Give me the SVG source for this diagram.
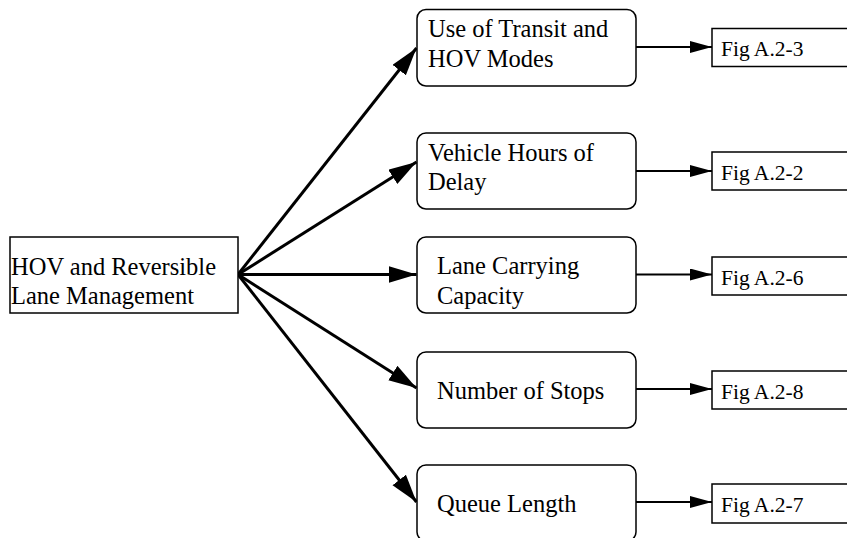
<svg xmlns="http://www.w3.org/2000/svg" width="847" height="538" viewBox="0 0 847 538">
<style>
  .box{fill:#fff;stroke:#000;stroke-width:1.5}
  .t{font-family:"Liberation Serif","Times New Roman",serif;font-size:24.5px;fill:#000}
  .f{font-family:"Liberation Serif","Times New Roman",serif;font-size:21.5px;fill:#000}
  .big{stroke:#000;stroke-width:3;fill:none}
  .sm{stroke:#000;stroke-width:2;fill:none}
</style>
<defs>
  <marker id="ah" markerUnits="userSpaceOnUse" markerWidth="30" markerHeight="20" refX="28" refY="8.5" orient="auto">
    <path d="M0,0 L28,8.5 L0,17 Z" fill="#000"/>
  </marker>
  <marker id="as" markerUnits="userSpaceOnUse" markerWidth="24" markerHeight="14" refX="22" refY="6" orient="auto">
    <path d="M0,0 L22,6 L0,12 Z" fill="#000"/>
  </marker>
</defs>
<rect width="847" height="538" fill="#fff"/>
<g id="connectors">
  <line class="big" x1="238" y1="274.5" x2="416.5" y2="48" marker-end="url(#ah)"/>
  <line class="big" x1="238" y1="274.5" x2="416.5" y2="162" marker-end="url(#ah)"/>
  <line class="big" x1="238" y1="274.5" x2="416.5" y2="274.5" marker-end="url(#ah)"/>
  <line class="big" x1="238" y1="274.5" x2="416.5" y2="388" marker-end="url(#ah)"/>
  <line class="big" x1="238" y1="274.5" x2="416.5" y2="502" marker-end="url(#ah)"/>
  <line class="sm" x1="636" y1="47" x2="712" y2="47" marker-end="url(#as)"/>
  <line class="sm" x1="636" y1="171" x2="712" y2="171" marker-end="url(#as)"/>
  <line class="sm" x1="636" y1="274.5" x2="712" y2="274.5" marker-end="url(#as)"/>
  <line class="sm" x1="636" y1="389" x2="712" y2="389" marker-end="url(#as)"/>
  <line class="sm" x1="636" y1="502" x2="712" y2="502" marker-end="url(#as)"/>
</g>
<g id="main">
  <rect class="box" x="10" y="237" width="228" height="76"/>
  <text class="t" x="11" y="275">HOV and Reversible</text>
  <text class="t" x="11" y="304">Lane Management</text>
</g>
<g id="n1">
  <rect class="box" x="417" y="9.5" width="219" height="76.5" rx="9"/>
  <text class="t" x="428" y="36.5">Use of Transit and</text>
  <text class="t" x="428" y="66.5">HOV Modes</text>
</g>
<g id="n2">
  <rect class="box" x="417" y="133" width="219" height="76" rx="9"/>
  <text class="t" x="428" y="160.5">Vehicle Hours of</text>
  <text class="t" x="428" y="189.5">Delay</text>
</g>
<g id="n3">
  <rect class="box" x="417" y="237" width="219" height="76" rx="9"/>
  <text class="t" x="437" y="274">Lane Carrying</text>
  <text class="t" x="437" y="304">Capacity</text>
</g>
<g id="n4">
  <rect class="box" x="417" y="352" width="219" height="76" rx="9"/>
  <text class="t" x="437" y="399">Number of Stops</text>
</g>
<g id="n5">
  <rect class="box" x="417" y="465" width="219" height="76" rx="9"/>
  <text class="t" x="437" y="511.5">Queue Length</text>
</g>
<g id="f1">
  <rect class="box" x="712" y="28.5" width="150" height="38"/>
  <text class="f" x="721" y="56">Fig A.2-3</text>
</g>
<g id="f2">
  <rect class="box" x="712" y="152" width="150" height="38"/>
  <text class="f" x="721" y="179.5">Fig A.2-2</text>
</g>
<g id="f3">
  <rect class="box" x="712" y="257" width="150" height="38"/>
  <text class="f" x="721" y="284.5">Fig A.2-6</text>
</g>
<g id="f4">
  <rect class="box" x="712" y="371" width="150" height="38"/>
  <text class="f" x="721" y="398.5">Fig A.2-8</text>
</g>
<g id="f5">
  <rect class="box" x="712" y="484" width="150" height="39"/>
  <text class="f" x="721" y="511.5">Fig A.2-7</text>
</g>
</svg>
